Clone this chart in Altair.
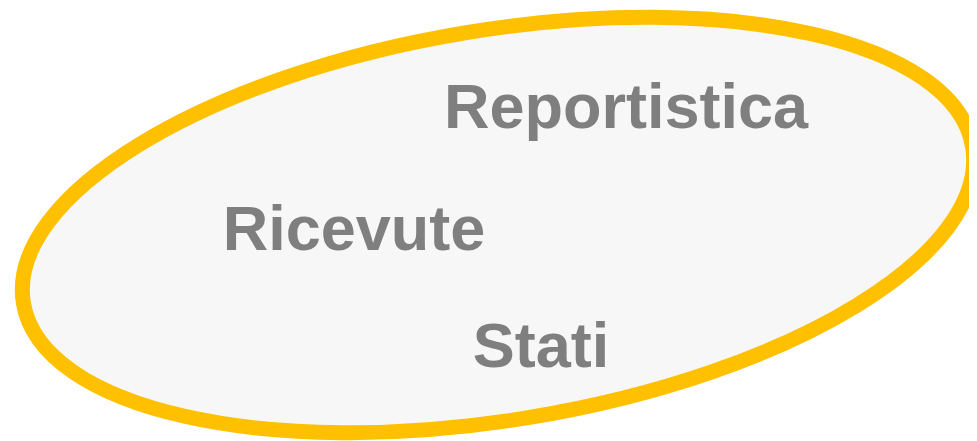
import altair as alt
import pandas as pd

# Content
labels = ["Reportistica", "Ricevute", "Stati"]

# Layout (chart pixel coordinates, origin top-left)
label_x = [618, 346, 533]
label_y = [120, 242, 359]

W, H = 961, 433
ellipse_cx, ellipse_cy = 490, 217
semi_major, semi_minor = 481, 195
tilt = 9.34

text_df = pd.DataFrame({"label": labels, "x": label_x, "y": label_y})
ell_df = pd.DataFrame({"x": [ellipse_cx], "y": [ellipse_cy]})

xs = alt.Scale(domain=[0, W], range=[0, W])
ys = alt.Scale(domain=[0, H], range=[0, H])

r = semi_minor / semi_major
shape_path = f"M-1,0A1,{r:.4f},0,1,1,1,0A1,{r:.4f},0,1,1,-1,0Z"

ellipse = alt.Chart(ell_df).mark_point(
    shape=shape_path,
    filled=True,
    fill="#F7F7F7",
    stroke="#FFC000",
    strokeWidth=15,
    opacity=1,
    size=(2 * semi_major) ** 2,
    angle=360 - tilt,
    clip=False,
).encode(
    x=alt.X("x:Q", scale=xs, axis=None),
    y=alt.Y("y:Q", scale=ys, axis=None),
)

text = alt.Chart(text_df).mark_text(
    font="Liberation Sans",
    fontWeight="bold",
    fontSize=63,
    color="#7F7F7F",
    align="center",
    baseline="alphabetic",
).encode(
    x=alt.X("x:Q", scale=xs, axis=None),
    y=alt.Y("y:Q", scale=ys, axis=None),
    text="label:N",
)

chart = alt.layer(ellipse, text).properties(
    width=W, height=H, padding=0, autosize=alt.AutoSizeParams(type="none"),
    background="white",
).configure_view(stroke=None)

chart.save("out.html", embed_options={"renderer": "svg", "actions": False})
